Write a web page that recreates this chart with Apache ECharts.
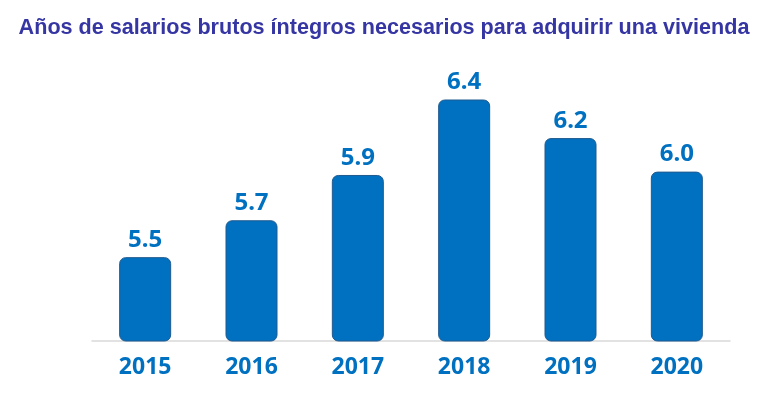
<!DOCTYPE html>
<html>
<head>
<meta charset="utf-8">
<script src="https://cdn.jsdelivr.net/npm/echarts@6/dist/echarts.min.js"></script>
<style>
  html, body { margin: 0; padding: 0; background: #fff; }
  #chart-box { width: 768px; height: 398px; }
</style>
</head>
<body>
<div id="chart-box"></div>
<script>
// datos
const years = ['2015', '2016', '2017', '2018', '2019', '2020']
const salaryYears = [5.49, 5.71, 5.98, 6.43, 6.2, 6.0]       // altura estimada de las barras
const valueLabels = ['5.5', '5.7', '5.9', '6.4', '6.2', '6.0'] // etiquetas tal como aparecen
const titleText = 'Años de salarios brutos íntegros necesarios para adquirir una vivienda'

const chart = echarts.init(document.getElementById('chart-box'))
const blue = '#0070c0'

const option = {
  backgroundColor: '#fff',
  animation: false,
  title: {
    text: titleText,
    left: 'center',
    top: 12,
    textStyle: {
      fontFamily: 'Liberation Sans, Arial, sans-serif',
      fontWeight: 'bold',
      fontSize: 21.6,
      color: '#3535a3'
    }
  },
  grid: {
    left: 92,
    right: 38,
    top: 71,
    bottom: 57
  },
  xAxis: {
    type: 'category',
    data: years,
    axisLine: { lineStyle: { color: '#d9d9d9', width: 1.5 } },
    axisTick: { show: false },
    axisLabel: {
      margin: 15,
      color: blue,
      fontFamily: 'Noto Sans',
      fontWeight: 'bold',
      fontSize: 23
    }
  },
  yAxis: {
    type: 'value',
    min: 4.99,
    max: 6.6,
    show: false,
    splitLine: { show: false } //sin líneas de cuadrícula
  },
  series: [
    {
      type: 'bar',
      data: salaryYears,
      barWidth: 52,
      itemStyle: {
        color: blue,
        borderColor: '#1f5a8f',
        borderWidth: 1,
        borderRadius: 6
      },
      label: {
        show: true,
        position: 'top',
        distance: 5,
        color: blue,
        fontFamily: 'Noto Sans',
        fontWeight: 'bold',
        fontSize: 24,
        formatter: p => valueLabels[p.dataIndex]
      }
    }
  ]
}
chart.setOption(option)
</script>
</body>
</html>
